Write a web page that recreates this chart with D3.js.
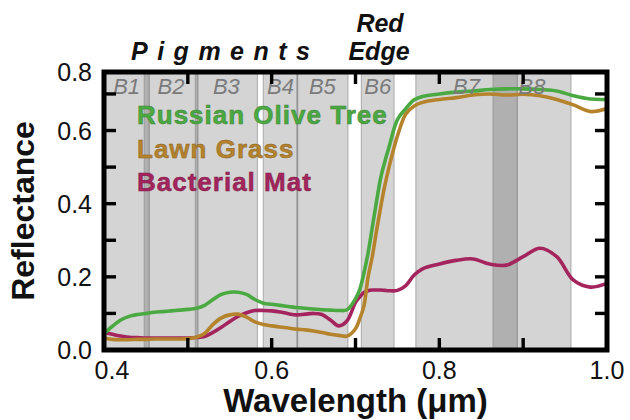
<!DOCTYPE html>
<html>
<head>
<meta charset="utf-8">
<script src="https://cdn.jsdelivr.net/npm/d3@7"></script>
<style>
  html, body { margin: 0; padding: 0; background: #fff; }
  svg { display: block; font-family: "Liberation Sans", Arial, Helvetica, sans-serif; }
</style>
</head>
<body>
<svg id="chart" width="630" height="420"></svg>
<script>
// ---------- data ----------
const wavelength = [0.40,0.41,0.42,0.43,0.44,0.45,0.46,0.47,0.48,0.49,0.50,0.51,0.52,0.53,0.54,0.55,0.56,0.57,0.58,0.59,0.60,0.61,0.62,0.63,0.64,0.65,0.66,0.67,0.68,0.69,0.70,0.705,0.71,0.715,0.72,0.725,0.73,0.735,0.74,0.75,0.76,0.77,0.78,0.80,0.82,0.84,0.86,0.88,0.90,0.92,0.94,0.96,0.98,1.00];

const russianOlive = [0.045,0.065,0.082,0.092,0.097,0.100,0.103,0.105,0.107,0.109,0.111,0.114,0.122,0.138,0.152,0.158,0.158,0.152,0.138,0.128,0.125,0.122,0.119,0.116,0.114,0.112,0.110,0.109,0.108,0.110,0.140,0.165,0.210,0.265,0.335,0.405,0.470,0.515,0.555,0.630,0.660,0.684,0.693,0.700,0.705,0.708,0.712,0.714,0.714,0.712,0.708,0.695,0.686,0.685];

const lawnGrass = [0.033,0.029,0.028,0.028,0.029,0.029,0.030,0.030,0.030,0.030,0.031,0.035,0.045,0.070,0.088,0.096,0.098,0.090,0.077,0.070,0.066,0.063,0.060,0.057,0.055,0.052,0.048,0.043,0.040,0.038,0.058,0.085,0.120,0.200,0.255,0.325,0.390,0.450,0.500,0.585,0.645,0.667,0.677,0.685,0.690,0.697,0.700,0.697,0.699,0.695,0.685,0.670,0.652,0.660];

const bacterialMat = [0.048,0.043,0.038,0.035,0.034,0.033,0.033,0.033,0.033,0.033,0.033,0.034,0.037,0.048,0.062,0.078,0.092,0.102,0.108,0.108,0.107,0.104,0.099,0.096,0.098,0.100,0.097,0.082,0.066,0.080,0.130,0.145,0.157,0.162,0.164,0.164,0.164,0.163,0.162,0.163,0.176,0.205,0.222,0.235,0.245,0.249,0.235,0.232,0.255,0.278,0.255,0.191,0.172,0.182];

const seriesNames = ["Russian Olive Tree", "Lawn Grass", "Bacterial Mat"];
const seriesColors = ["#4aaa41", "#b5832c", "#a4245d"];
const seriesValues = [russianOlive, lawnGrass, bacterialMat];

const bandNames = ["B1","B2","B3","B4","B5","B6","B7","B8"];
const bandStart = [0.400,0.448,0.509,0.590,0.630,0.707,0.772,0.864];
const bandEnd   = [0.454,0.512,0.583,0.631,0.691,0.746,0.893,0.957];

const xMin = 0.4, xMax = 1.0;
const yMin = 0.0, yMax = 0.76;
const xLabelTicks = [0.4, 0.6, 0.8, 1.0];
const xMinorTicks = [0.5, 0.6, 0.7, 0.8, 0.9];
const yLabelTicks = [0.0, 0.2, 0.4, 0.6, yMax];
const yMinorTicks = [0.1, 0.2, 0.3, 0.4, 0.5, 0.6, 0.7];

// ---------- layout ----------
(function () {
const svg = d3.select("#chart");
const pL = 104, pR = 607, pT = 72, pB = 350;
const x = d3.scaleLinear().domain([xMin, xMax]).range([pL, pR]);
const y = d3.scaleLinear().domain([yMin, yMax]).range([pB, pT]);
const fmt = d3.format(".1f");

svg.append("defs").append("clipPath").attr("id", "plotClip")
  .append("rect").attr("x", pL).attr("y", pT).attr("width", pR - pL).attr("height", pB - pT);

const plot = svg.append("g").attr("clip-path", "url(#plotClip)");

// bands
const bands = bandNames.map((n, i) => ({ name: n, s: bandStart[i], e: bandEnd[i] }));
plot.selectAll("rect.band").data(bands).enter().append("rect")
  .attr("class", "band")
  .attr("x", d => x(d.s)).attr("width", d => x(d.e) - x(d.s))
  .attr("y", pT).attr("height", pB - pT)
  .attr("fill", "#000").attr("fill-opacity", 0.17)
  .attr("stroke", "#8f8f8f").attr("stroke-opacity", 0.6).attr("stroke-width", 1.2);

// band labels
svg.selectAll("text.bandLabel").data(bands).enter().append("text")
  .attr("class", "bandLabel")
  .attr("x", d => x((d.s + d.e) / 2)).attr("y", 94)
  .attr("text-anchor", "middle")
  .attr("font-size", 22).attr("font-style", "italic")
  .attr("fill", "#7a7a7a")
  .text(d => d.name);

// curves
const line = d3.line().x(d => x(d[0])).y(d => y(d[1])).curve(d3.curveCatmullRom.alpha(0.5));
[2, 1, 0].forEach(i => {
  plot.append("path")
    .datum(wavelength.map((w, j) => [w, seriesValues[i][j]]))
    .attr("fill", "none")
    .attr("stroke", seriesColors[i])
    .attr("stroke-width", 3.6)
    .attr("stroke-linejoin", "round")
    .attr("d", line);
});

// ticks (inward on all sides)
const tickLen = 12;
const axisG = svg.append("g").attr("stroke", "#000").attr("stroke-width", 3.4);
xMinorTicks.forEach(v => {
  axisG.append("line").attr("x1", x(v)).attr("x2", x(v)).attr("y1", pB).attr("y2", pB - tickLen);
  axisG.append("line").attr("x1", x(v)).attr("x2", x(v)).attr("y1", pT).attr("y2", pT + tickLen);
});
yMinorTicks.forEach(v => {
  axisG.append("line").attr("x1", pL).attr("x2", pL + tickLen).attr("y1", y(v)).attr("y2", y(v));
  axisG.append("line").attr("x1", pR).attr("x2", pR - tickLen).attr("y1", y(v)).attr("y2", y(v));
});

// frame
svg.append("rect").attr("x", pL).attr("y", pT).attr("width", pR - pL).attr("height", pB - pT)
  .attr("fill", "none").attr("stroke", "#000").attr("stroke-width", 5);

// tick labels
svg.append("g").selectAll("text").data(xLabelTicks).enter().append("text")
  .attr("x", d => x(d)).attr("dx", (d, i) => i === 0 ? 8 : 0).attr("y", 379)
  .attr("text-anchor", "middle").attr("font-size", 25).attr("fill", "#111")
  .text(d => fmt(d));

svg.append("g").selectAll("text").data(yLabelTicks).enter().append("text")
  .attr("x", 92).attr("y", d => y(d)).attr("dy", "0.36em")
  .attr("text-anchor", "end").attr("font-size", 25).attr("fill", "#111")
  .text(d => fmt(d));

// axis titles
svg.append("text").attr("x", (pL + pR) / 2).attr("y", 412)
  .attr("text-anchor", "middle").attr("font-size", 33).attr("font-weight", "bold").attr("fill", "#111")
  .text("Wavelength (μm)");

svg.append("text").attr("transform", `translate(34,${(pT + pB) / 2}) rotate(-90)`)
  .attr("text-anchor", "middle").attr("font-size", 32).attr("font-weight", "bold").attr("fill", "#111")
  .text("Reflectance");

// legend
svg.append("g").selectAll("text").data(seriesNames).enter().append("text")
  .attr("x", 137).attr("y", (d, i) => 124 + i * 33.5)
  .attr("font-size", 26).attr("font-weight", "bold").attr("letter-spacing", "1px")
  .attr("fill", (d, i) => seriesColors[i])
  .attr("stroke", (d, i) => d3.color(seriesColors[i]).darker(0.8)).attr("stroke-width", 0.5)
  .text(d => d);

// annotations
svg.append("text").attr("x", 131).attr("y", 60)
  .attr("font-size", 25).attr("font-weight", "bold").attr("font-style", "italic")
  .attr("letter-spacing", "9.5px").attr("fill", "#111")
  .text("Pigments");
svg.append("text").attr("x", 380).attr("y", 32)
  .attr("text-anchor", "middle").attr("font-size", 25).attr("font-weight", "bold").attr("font-style", "italic").attr("fill", "#111")
  .text("Red");
svg.append("text").attr("x", 379).attr("y", 60)
  .attr("text-anchor", "middle").attr("font-size", 25).attr("font-weight", "bold").attr("font-style", "italic").attr("fill", "#111")
  .text("Edge");
})();
</script>
</body>
</html>
